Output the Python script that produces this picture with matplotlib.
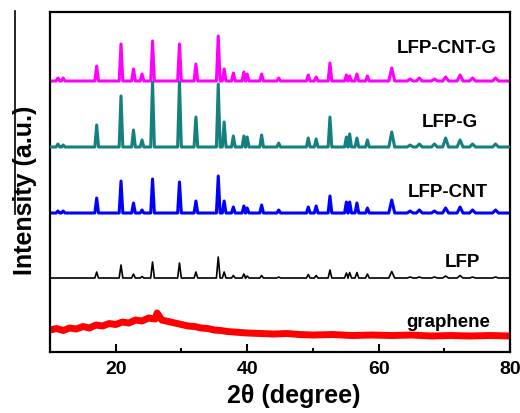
import matplotlib
matplotlib.use("Agg")
import matplotlib.pyplot as plt
from matplotlib.lines import Line2D

plt.rcParams["font.family"] = ["Liberation Sans", "DejaVu Sans"]
plt.rcParams["font.weight"] = "bold"

# Peak positions (2theta) of the LiFePO4 pattern
peak_pos = [11.2, 12.0, 17.1, 20.8, 22.7, 24.0, 25.6, 29.7, 32.2, 35.6, 36.5, 37.9,
            39.5, 40.0, 42.2, 44.8, 49.3, 50.5, 52.6, 55.1, 55.6, 56.7, 58.3, 62.0,
            64.8, 66.2, 68.5, 70.2, 72.4, 74.3, 77.8]

# Peak heights (a.u.) above each baseline
h_lfp_cnt_g = [3, 3, 15, 37, 12, 7, 40, 37, 17, 45, 12, 8, 9, 7, 7, 3, 6, 4, 18, 6,
               5, 7, 5, 13, 2, 3, 2, 4, 6, 3, 3]
h_lfp_g = [3, 2, 22, 51, 17, 7, 65, 65, 30, 63, 25, 11, 11, 10, 12, 4, 9, 8, 30, 10,
           13, 9, 7, 15, 2, 3, 3, 9, 7, 3, 3]
h_lfp_cnt = [2, 2, 15, 32, 10, 3, 34, 31, 12, 37, 12, 6, 7, 5, 8, 3, 6, 7, 17, 11,
             11, 10, 5, 13, 2, 3, 2, 5, 6, 3, 3]
h_lfp = [0, 0, 6, 13, 4, 1.5, 16, 15, 6, 21, 6, 2.5, 4, 2, 2.5, 1, 3.5, 2.5, 8, 5,
         5.5, 5.5, 4, 6.5, 1, 1, 1, 2, 2.5, 1, 1]

# Baseline offsets of the stacked patterns
base_lfp_cnt_g = 271
base_lfp_g = 205
base_lfp_cnt = 139
base_lfp = 74

# Graphene: broad amorphous hump
gr_x = [10, 11, 12, 13, 14, 15, 16, 17, 18, 19, 20, 21, 22, 23, 24, 25, 26, 26.3,
        27, 28, 29, 30, 31, 32, 33, 34, 35, 36, 37, 38, 39, 40, 42, 44, 46, 48, 50,
        53, 56, 59, 62, 65, 68, 71, 74, 77, 80]
gr_y = [22, 23.5, 21.5, 24, 23, 25.5, 24, 27, 26, 28.5, 27.5, 30, 29, 32, 31, 34,
        33, 39, 32, 30.5, 29, 27.5, 26, 25.5, 24, 23.5, 22, 21.5, 20.5, 20, 19.5,
        19, 18.5, 18, 18.5, 17.5, 17, 17.5, 16.5, 17, 16.5, 17, 16, 16.5, 16,
        16.5, 16]

labels = ["LFP-CNT-G", "LFP-G", "LFP-CNT", "LFP", "graphene"]
label_x = [70.4, 70.9, 70.6, 72.8, 70.6]
label_y = [305, 231, 161, 91, 31]


def pattern(base, heights):
    xs, ys = [10], [base]
    for p, h in zip(peak_pos, heights):
        if h <= 0:
            continue
        w = 0.45 if p > 60 else 0.28
        xs += [p - w, p, p + w]
        ys += [base, base + h, base]
    xs.append(80)
    ys.append(base)
    return xs, ys


fig = plt.figure(figsize=(5.2, 4.14), dpi=100)
ax = fig.add_axes([0.0962, 0.1473, 0.8846, 0.8213])

x, y = pattern(base_lfp_cnt_g, h_lfp_cnt_g)
ax.plot(x, y, color="#FF00FF", lw=2.2, zorder=2)
x, y = pattern(base_lfp_g, h_lfp_g)
ax.plot(x, y, color="#14807F", lw=2.2, zorder=3)
x, y = pattern(base_lfp_cnt, h_lfp_cnt)
ax.plot(x, y, color="#0000FF", lw=2.2, zorder=2)
x, y = pattern(base_lfp, h_lfp)
ax.plot(x, y, color="black", lw=1.2, zorder=2)
ax.plot(gr_x, gr_y, color="#FF0000", lw=5, zorder=2)

for t, tx, ty in zip(labels, label_x, label_y):
    ax.text(tx, ty, t, fontsize=13.5, fontweight="bold", ha="center", va="center")

ax.set_xlim(10, 80)
ax.set_ylim(0, 340)
ax.set_xticks([20, 40, 60, 80])
ax.set_xticks([30, 50, 70], minor=True)
ax.set_yticks([])
ax.tick_params(axis="x", which="major", direction="in", length=6, width=1.5,
               labelsize=14, pad=6)
ax.tick_params(axis="x", which="minor", direction="in", length=3, width=1.5)
for lbl in ax.get_xticklabels():
    lbl.set_fontweight("bold")
for s in ax.spines.values():
    s.set_linewidth(1.6)

fig.text(0.564, 0.043, "2\u03b8 (degree)", fontsize=18, fontweight="bold",
         ha="center", va="center")
fig.text(0.048, 0.541, "Intensity (a.u.)", fontsize=18, fontweight="bold",
         ha="center", va="center", rotation=90)
fig.add_artist(Line2D([0.028, 0.028], [0.971, 0.48], color="black", lw=1.2,
                      transform=fig.transFigure))

fig.savefig("out.png", dpi=100)
